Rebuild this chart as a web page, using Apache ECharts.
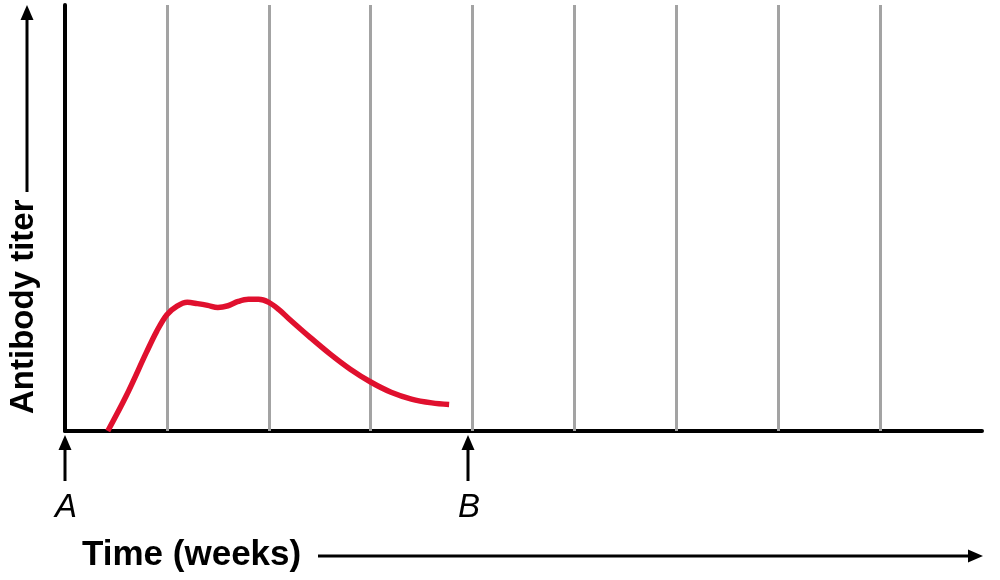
<!DOCTYPE html>
<html><head><meta charset="utf-8">
<script src="https://cdn.jsdelivr.net/npm/echarts@6/dist/echarts.min.js"></script>
<style>html,body{margin:0;padding:0;background:#fff}#c{width:1000px;height:580px}</style>
</head><body><div id="c"></div>
<script>
// Data (weeks, antibody titer in arbitrary units)
var weeks = [0.42, 0.6, 0.8, 0.9, 1.0, 1.1, 1.2, 1.3, 1.4, 1.5, 1.6, 1.7, 1.8, 1.9, 2.0, 2.1, 2.2, 2.4, 2.6, 2.8, 3.0, 3.2, 3.4, 3.6, 3.77];
var titer = [0.00, 0.82, 1.85, 2.34, 2.73, 2.93, 3.02, 2.99, 2.95, 2.90, 2.94, 3.04, 3.09, 3.09, 3.02, 2.85, 2.63, 2.21, 1.81, 1.45, 1.15, 0.91, 0.75, 0.66, 0.62];
var gridWeeks = [1, 2, 3, 4, 5, 6, 7, 8];
var eventLabels = ['A', 'B'];
var eventWeeks = [0, 3.96];
var xTitle = 'Time (weeks)';
var yTitle = 'Antibody titer';

var chart = echarts.init(document.getElementById('c'), null, {renderer: 'canvas'});
var pts = weeks.map(function (w, i) { return [w, titer[i]]; });

chart.setOption({
  animation: false,
  grid: {left: 65, right: 18, top: 5, bottom: 149},
  xAxis: {type: 'value', min: 0, max: 9, interval: 1,
    axisLine: {show: true, lineStyle: {color: '#000', width: 4}},
    axisTick: {show: false}, axisLabel: {show: false}, splitLine: {show: false}},
  yAxis: {type: 'value', min: 0, max: 10,
    axisLine: {show: true, lineStyle: {color: '#000', width: 4}},
    axisTick: {show: false}, axisLabel: {show: false}, splitLine: {show: false}},
  series: [{
    type: 'line', data: pts, smooth: 0.35, showSymbol: false, z: 5,
    lineStyle: {color: '#e0102e', width: 5.5, cap: 'butt', join: 'round'},
    markLine: {silent: true, symbol: 'none', label: {show: false}, z: 1,
      lineStyle: {color: '#a3a3a3', width: 3, type: 'solid'},
      data: gridWeeks.map(function (w) { return {xAxis: w}; })}
  }]
});

var font = '"Liberation Sans", Arial, Helvetica, sans-serif';
var g = [];
// Event arrows A/B
eventWeeks.forEach(function (w, i) {
  var p = chart.convertToPixel({gridIndex: 0}, [w, 0]);
  var x = Math.round(p[0]);
  g.push({type: 'line', shape: {x1: x, y1: 446, x2: x, y2: 481}, style: {stroke: '#000', lineWidth: 3}});
  g.push({type: 'polygon', shape: {points: [[x, 435], [x - 6.5, 450], [x + 6.5, 450]]}, style: {fill: '#000'}});
  g.push({type: 'text', x: x + 1, y: 508, style: {text: eventLabels[i], font: 'italic 33px ' + font, fill: '#000', align: 'center', verticalAlign: 'middle'}});
});
// X title with arrow
g.push({type: 'text', x: 82, y: 555, style: {text: xTitle, font: 'bold 35px ' + font, fill: '#000', align: 'left', verticalAlign: 'middle'}});
g.push({type: 'line', shape: {x1: 318, y1: 556, x2: 970, y2: 556}, style: {stroke: '#000', lineWidth: 3}});
g.push({type: 'polygon', shape: {points: [[983, 556], [968, 549.5], [968, 562.5]]}, style: {fill: '#000'}});
// Y title with arrow
g.push({type: 'text', x: 24, y: 414, rotation: Math.PI / 2, style: {text: yTitle, font: 'bold 33px ' + font, fill: '#000', align: 'left', verticalAlign: 'middle'}});
g.push({type: 'line', shape: {x1: 27, y1: 192, x2: 27, y2: 16}, style: {stroke: '#000', lineWidth: 3}});
g.push({type: 'polygon', shape: {points: [[27, 5], [20.5, 20], [33.5, 20]]}, style: {fill: '#000'}});
chart.setOption({graphic: g});
</script></body></html>
